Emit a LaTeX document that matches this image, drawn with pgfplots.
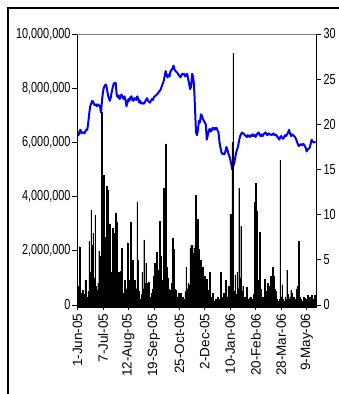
\documentclass[border=0pt]{standalone}
\usepackage{fontspec}
\setmainfont{Liberation Sans}
\newfontfamily\narrowfont{Liberation Sans}[FakeStretch=0.75]
\usepackage{pgfplots}
\usepackage{pgfplotstable}
\pgfplotsset{compat=1.18}

% daily trading volume (shares) and closing price, 1 Jun 2005 onwards
\pgfplotstableread{
vol price
350000 18.9
700000 18.8
2150000 19.2
300000 19.4
450000 19.0
550000 19.1
250000 19.1
400000 19.0
900000 19.2
300000 19.4
200000 19.4
500000 20.2
2350000 21.2
1200000 22.0
3500000 22.3
2200000 22.6
2650000 22.5
1000000 22.2
3300000 22.1
700000 22.2
550000 22.0
800000 22.2
2000000 22.1
1800000 22.0
600000 21.3
7100000 22.6
2200000 23.6
4800000 24.1
1600000 24.3
2500000 24.4
4400000 24.0
4250000 23.3
1100000 22.9
3000000 22.6
1200000 23.0
800000 23.6
2850000 24.1
1000000 24.5
2650000 24.6
3400000 24.6
3050000 23.3
900000 23.0
1200000 23.2
600000 22.8
1250000 23.1
2100000 23.3
450000 23.0
300000 22.8
900000 23.1
400000 22.7
600000 22.0
2300000 22.4
500000 22.8
900000 22.6
3050000 23.0
700000 23.1
1650000 22.7
400000 22.6
900000 22.9
300000 22.8
600000 22.7
3800000 23.1
1650000 22.9
500000 22.4
200000 22.6
400000 22.3
1200000 22.4
600000 22.3
2400000 22.3
800000 22.5
1550000 22.7
800000 22.9
400000 22.6
850000 22.5
300000 22.4
200000 22.6
450000 22.8
600000 22.7
1050000 23.0
1550000 23.1
700000 23.2
1950000 23.3
1300000 23.4
900000 23.6
3100000 23.7
1800000 23.9
600000 24.2
900000 24.5
4300000 24.8
3900000 25.3
5950000 25.9
1400000 25.4
1000000 25.2
600000 25.5
400000 25.3
550000 25.9
800000 26.0
2450000 26.2
2050000 26.5
600000 26.1
550000 25.9
300000 25.8
200000 25.7
450000 25.5
250000 25.4
450000 25.2
300000 25.4
150000 25.6
300000 25.5
200000 25.6
500000 25.3
1400000 25.4
600000 25.6
800000 25.0
750000 24.5
2100000 23.9
2200000 24.2
2200000 25.6
1900000 25.3
2100000 24.3
2200000 21.7
4050000 19.1
1500000 18.8
3150000 19.4
2050000 20.4
1200000 20.2
1650000 21.1
900000 21.0
1400000 20.6
600000 20.4
1050000 20.2
500000 20.0
950000 18.3
550000 18.8
300000 19.3
1200000 19.5
300000 19.2
200000 19.3
450000 19.6
150000 19.6
100000 19.4
200000 19.6
150000 19.6
300000 19.3
200000 19.1
150000 18.0
1200000 17.4
300000 16.9
200000 16.7
450000 16.8
300000 16.7
900000 17.0
200000 17.5
300000 17.2
700000 16.8
400000 16.5
3350000 16.1
800000 15.6
6000000 15.0
9300000 15.4
500000 15.7
1100000 16.3
400000 16.9
1200000 17.2
600000 17.6
4300000 18.2
1000000 18.7
2900000 18.9
500000 19.1
700000 19.0
300000 18.9
200000 18.8
300000 18.7
650000 18.6
200000 18.8
150000 18.7
250000 18.6
300000 18.8
100000 18.7
200000 18.9
400000 18.7
3800000 18.8
4500000 18.6
3450000 18.9
900000 19.0
500000 19.1
2700000 18.8
600000 18.7
300000 18.9
200000 18.7
300000 18.9
950000 19.0
400000 19.1
500000 18.9
800000 18.8
300000 19.0
700000 18.9
1050000 18.9
600000 18.8
1400000 18.9
1050000 19.0
600000 18.8
500000 18.9
200000 18.8
150000 18.6
100000 18.5
200000 18.3
5350000 18.6
300000 18.7
750000 18.5
200000 18.4
150000 18.6
300000 18.8
200000 18.7
1300000 18.9
400000 19.1
200000 19.4
300000 19.0
550000 18.7
450000 18.9
200000 18.8
300000 18.7
150000 18.6
200000 18.4
600000 18.1
700000 17.8
2350000 17.6
300000 17.7
200000 17.8
100000 17.7
150000 17.8
300000 17.8
250000 17.6
100000 17.4
200000 17.0
350000 17.2
150000 17.3
300000 17.4
100000 17.8
350000 18.3
200000 18.1
150000 18.0
350000 18.0
300000 18.1
}\stocktable

\pgfplotsset{
  every axis/.append style={
    scale only axis,
    width=239pt, height=271pt,
    xmin=-0.5, xmax=243.5,
    tick align=outside,
    tick style={black, line width=0.7pt},
    major tick length=5pt,
    minor tick length=2.5pt,
    axis line style={black, line width=0.9pt},
    /pgf/number format/assume math mode=true,
  },
}

\begin{document}
\begin{tikzpicture}
  \path[use as bounding box] (0,0) rectangle (339pt,394pt);
  % outer frame (left and top edges)
  \draw[black, line width=1.2pt] (8pt,0) -- (8pt,386pt) -- (339pt,386pt);

  % price line on the right-hand axis
  \begin{axis}[
    at={(77pt,89pt)}, anchor=south west,
    axis x line=none,
    axis y line*=right,
    ymin=0, ymax=30,
    ytick={0,5,...,30},
    yticklabel style={font=\narrowfont\fontsize{14.5}{14.5}\selectfont, xshift=-1pt},
  ]
    \addplot[blue, line width=2pt, line join=round, no markers]
      table[x expr=\coordindex, y=price] {\stocktable};
  \end{axis}

  % volume bars on the left-hand axis
  \begin{axis}[
    at={(77pt,89pt)}, anchor=south west,
    axis x line*=bottom,
    axis y line*=left,
    ymin=0, ymax=10000000,
    ytick={0,2000000,...,10000000},
    scaled y ticks=false,
    yticklabel style={font=\narrowfont\fontsize{14.5}{14.5}\selectfont, xshift=2pt,
      /pgf/number format/.cd, fixed, precision=0, 1000 sep={,}},
    xtick={0,26,...,234},
    xticklabels={1-Jun-05,7-Jul-05,12-Aug-05,19-Sep-05,25-Oct-05,2-Dec-05,10-Jan-06,20-Feb-06,28-Mar-06,9-May-06},
    xticklabel style={rotate=90, anchor=east, font=\fontsize{13.5}{13.5}\selectfont},
    minor xtick={-0.5,0.5,...,243.5},
    ybar, bar width=0.75, bar shift=0pt,
  ]
    \addplot[fill=black, draw=black, line width=0.3pt]
      table[x expr=\coordindex, y=vol] {\stocktable};
    % grey top border of the plot area
    \draw[gray, line width=0.8pt] (rel axis cs:0,1) -- (rel axis cs:1,1);
  \end{axis}
\end{tikzpicture}
\end{document}
